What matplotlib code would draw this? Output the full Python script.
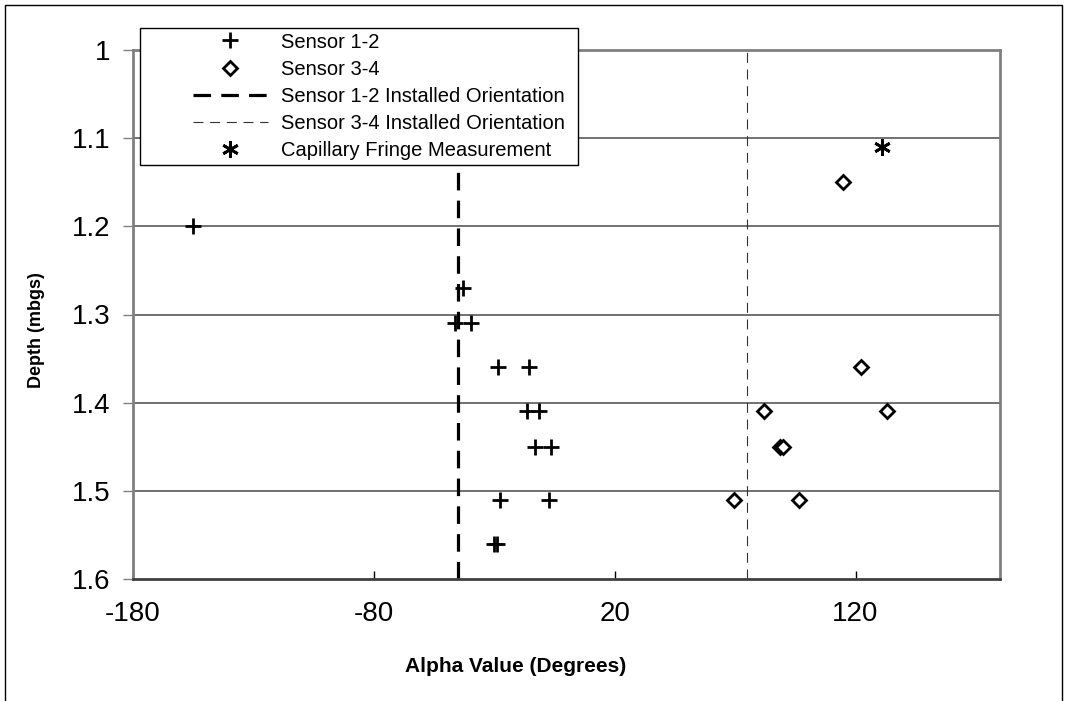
import matplotlib
matplotlib.use("Agg")
import matplotlib.pyplot as plt
from matplotlib.patches import Rectangle
from matplotlib.lines import Line2D

plt.rcParams['font.family'] = ['Liberation Sans', 'DejaVu Sans']
plt.rcParams['axes.unicode_minus'] = False

# Sensor 1-2 readings (alpha in degrees, depth in m below ground surface)
s12_alpha = [-155, -42.8, -46.3, -39.8, -28.3, -15.5, -16.5, -11.3, -13.1, -6.6, -27.6, -7.4, -30.0, -29.0]
s12_depth = [1.20, 1.27, 1.31, 1.31, 1.36, 1.36, 1.41, 1.41, 1.45, 1.45, 1.51, 1.51, 1.56, 1.56]

# Sensor 3-4 readings
s34_alpha = [115.0, 122.3, 81.8, 133.0, 88.7, 90.1, 69.7, 96.7]
s34_depth = [1.15, 1.36, 1.41, 1.41, 1.45, 1.45, 1.51, 1.51]

# installed orientations
s12_install = -45
s34_install = 75

# capillary fringe
cf_alpha = [131]
cf_depth = [1.11]

xticks = [-180, -80, 20, 120]
yticks = [1, 1.1, 1.2, 1.3, 1.4, 1.5, 1.6]
ytick_labels = ['1', '1.1', '1.2', '1.3', '1.4', '1.5', '1.6']

W, H = 1068, 701
fig = plt.figure(figsize=(W / 100, H / 100), dpi=100)
ax = fig.add_axes([133 / W, 1 - 579 / H, (1000 - 133) / W, (579 - 50) / H])

# horizontal grid
for y in yticks[1:-1]:
    ax.axhline(y, color='#4a4a4a', lw=1.1, zorder=1)

ax.axvline(s12_install, color='black', lw=2.3, dashes=(5.5, 3.2), zorder=2)
ax.axvline(s34_install, color='#333333', lw=0.8, dashes=(9, 6), zorder=2)

ax.plot(s12_alpha, s12_depth, ls='none', marker='+', ms=11, mew=2, color='black', zorder=3)
ax.plot(s34_alpha, s34_depth, ls='none', marker='D', ms=7.5, mew=2, mfc='white', mec='black', zorder=3)
ax.plot(cf_alpha, cf_depth, ls='none', marker=(6, 2, 0), ms=12, mew=2, color='black', zorder=3)

ax.set_xlim(-180, 180)
ax.set_ylim(1.6, 1.0)
ax.set_xticks(xticks)
ax.set_yticks(yticks)
ax.set_yticklabels(ytick_labels)
ax.tick_params(axis='x', direction='in', length=6, width=1, labelsize=20, pad=16)
ax.tick_params(axis='y', direction='out', length=7, width=1, labelsize=20, pad=9, color='#808080')

for side in ['top', 'right', 'left']:
    ax.spines[side].set_color('#808080')
    ax.spines[side].set_linewidth(2)
ax.spines['bottom'].set_color('#404040')
ax.spines['bottom'].set_linewidth(2)

ax.set_xlabel('Alpha Value (Degrees)', fontsize=15, fontweight='bold')
ax.set_ylabel('Depth (mbgs)', fontsize=13, fontweight='bold')
ax.xaxis.set_label_coords((516 - 133) / (1000 - 133), -(667 - 579) / (579 - 50))
ax.yaxis.set_label_coords(-(133 - 37) / (1000 - 133), (579 - 330) / (579 - 50))
ax.xaxis.label.set_va('center')
ax.yaxis.label.set_va('center')

# legend box
fig.patches.append(Rectangle((140 / W, 1 - 165 / H), (578 - 140) / W, (165 - 28) / H,
                             transform=fig.transFigure, facecolor='white', edgecolor='black',
                             lw=1, zorder=5))
handles = [
    Line2D([], [], ls='none', marker='+', ms=11, mew=2, color='black'),
    Line2D([], [], ls='none', marker='D', ms=7.5, mew=2, mfc='white', mec='black'),
    Line2D([], [], color='black', lw=2.3, dashes=(5.5, 3.2)),
    Line2D([], [], color='#333333', lw=0.8, dashes=(9, 6)),
    Line2D([], [], ls='none', marker=(6, 2, 0), ms=12, mew=2, color='black'),
]
labels = ['Sensor 1-2', 'Sensor 3-4', 'Sensor 1-2 Installed Orientation',
          'Sensor 3-4 Installed Orientation', 'Capillary Fringe Measurement']
leg = fig.legend(handles, labels, loc='upper left', bbox_to_anchor=(193 / W, 1 - 32.5 / H),
                 frameon=False, fontsize=14.5, handlelength=3.7, handletextpad=0.65,
                 labelspacing=0.4, borderpad=0, borderaxespad=0)
leg.set_zorder(6)

# outer chart border
fig.patches.append(Rectangle((5 / W, -0.05), (1062 - 5) / W, 1.05 - 5 / H,
                             transform=fig.transFigure, fill=False, edgecolor='black', lw=1))

fig.savefig('out.png', dpi=100)
